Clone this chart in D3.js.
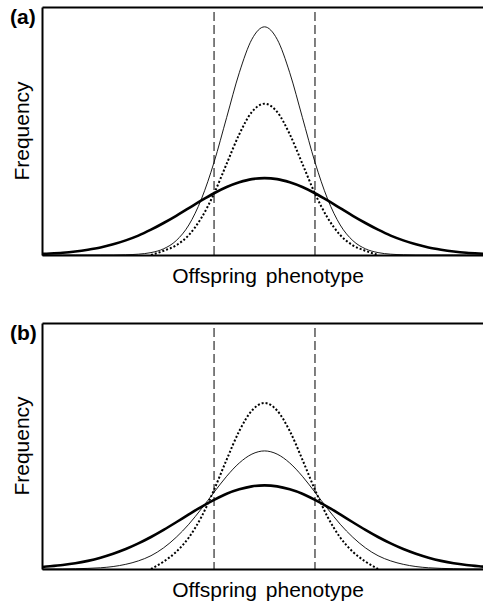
<html>
<head>
<meta charset="utf-8">
<script src="https://d3js.org/d3.v7.min.js"></script>
<style>
  body { margin: 0; background: #fff; }
  text { font-family: "Liberation Sans", Arial, sans-serif; fill: #000; }
</style>
</head>
<body>
<svg id="chart" width="483" height="604"></svg>
<script>
// phenotype positions (units: distance from the mean)
const xs = [-4.5,-4.25,-4,-3.75,-3.5,-3.25,-3,-2.75,-2.5,-2.25,-2,-1.75,-1.5,-1.25,-1,-0.75,-0.5,-0.25,0,
            0.25,0.5,0.75,1,1.25,1.5,1.75,2,2.25,2.5,2.75,3,3.25,3.5,3.75,4,4.25,4.5];

// panel (a) frequencies, % of panel height
const aThin   = [0,0,0,0,0,0,0,0.1,0.33,0.97,2.5,5.8,12.1,22.6,37.4,55.5,73.5,87.0,92,
                 87.0,73.5,55.5,37.4,22.6,12.1,5.8,2.5,0.97,0.33,0.1,0,0,0,0,0,0,0];
const aDotted = [null,null,null,null,null,null,null,null,null,0,1.7,3.9,8.05,15.0,24.8,36.8,48.7,57.7,61,
                 57.7,48.7,36.8,24.8,15.0,8.05,3.9,1.7,0,null,null,null,null,null,null,null,null,null];
const aThick  = [0.4,0.6,0.9,1.4,2.1,3.0,4.3,5.9,7.8,10.2,12.9,15.8,18.9,22.0,24.9,27.4,29.3,30.6,31,
                 30.6,29.3,27.4,24.9,22.0,18.9,15.8,12.9,10.2,7.8,5.9,4.3,3.0,2.1,1.4,0.9,0.6,0.4];

// panel (b)
const bThin   = [0,0,0,0.1,0.25,0.5,1.0,1.9,3.3,5.4,8.6,12.9,18.2,24.5,31.2,37.7,43.1,46.7,48,
                 46.7,43.1,37.7,31.2,24.5,18.2,12.9,8.6,5.4,3.3,1.9,1.0,0.5,0.25,0.1,0,0,0];
const bDotted = [null,null,null,null,null,null,null,null,null,0,3.0,7.0,12.8,21.2,32.2,44.5,56.1,64.4,67.5,
                 64.4,56.1,44.5,32.2,21.2,12.8,7.0,3.0,0,null,null,null,null,null,null,null,null,null];
const bThick  = [0.7,1.1,1.6,2.3,3.3,4.6,6.2,8.1,10.4,13.0,15.9,19.0,22.2,25.3,28.1,30.6,32.4,33.6,34,
                 33.6,32.4,30.6,28.1,25.3,22.2,19.0,15.9,13.0,10.4,8.1,6.2,4.6,3.3,2.3,1.6,1.1,0.7];

// selection thresholds
const cutoffs = [-1, 1];

const panels = [
  { label: "(a)", top: 7,   bottom: 255, thin: aThin, dotted: aDotted, thick: aThick },
  { label: "(b)", top: 323, bottom: 569, thin: bThin, dotted: bDotted, thick: bThick }
];

const svg = d3.select("#chart");
const left = 42, right = 483;
const x = d3.scaleLinear().domain([-4.41, 4.33]).range([left, right]);

svg.append("clipPath").attr("id", "clip")
   .append("rect").attr("x", left).attr("y", 0).attr("width", right - left).attr("height", 604);

panels.forEach(p => {
  const y = d3.scaleLinear().domain([0, 100]).range([p.bottom, p.top]);
  const g = svg.append("g");

  // dashed threshold lines
  g.selectAll(".cut").data(cutoffs).enter().append("line")
    .attr("x1", d => x(d)).attr("x2", d => x(d))
    .attr("y1", p.top + 5).attr("y2", p.bottom)
    .attr("stroke", "#555").attr("stroke-width", 1.5)
    .attr("stroke-dasharray", "9,4");

  const line = d3.line()
    .defined(d => d[1] != null)
    .x(d => x(d[0])).y(d => y(d[1]))
    .curve(d3.curveMonotoneX);

  const curves = g.append("g").attr("clip-path", "url(#clip)");
  curves.append("path").datum(d3.zip(xs, p.thick))
    .attr("fill", "none").attr("stroke", "#000").attr("stroke-width", 2.6)
    .attr("d", line);
  curves.append("path").datum(d3.zip(xs, p.thin))
    .attr("fill", "none").attr("stroke", "#000").attr("stroke-width", 0.9)
    .attr("d", line);
  curves.append("path").datum(d3.zip(xs, p.dotted))
    .attr("fill", "none").attr("stroke", "#000").attr("stroke-width", 2)
    .attr("stroke-dasharray", "2,2")
    .attr("d", line);

  // frame: left, bottom, top
  const axisStyle = sel => {
    sel.select(".domain").attr("stroke", "#000").attr("stroke-width", 2);
  };
  g.append("g").attr("transform", `translate(0,${p.bottom})`)
    .call(d3.axisBottom(x).tickValues([]).tickSizeOuter(0)).call(axisStyle);
  g.append("g").attr("transform", `translate(0,${p.top})`)
    .call(d3.axisTop(x).tickValues([]).tickSizeOuter(0)).call(axisStyle);
  g.append("g").attr("transform", `translate(${left},0)`)
    .call(d3.axisLeft(y).tickValues([]).tickSizeOuter(0)).call(axisStyle);

  // texts
  g.append("text").attr("x", 10).attr("y", p.top + 17)
    .attr("font-size", 21).attr("font-weight", "bold").text(p.label);
  g.append("text")
    .attr("transform", `translate(29,${(p.top + p.bottom) / 2}) rotate(-90)`)
    .attr("text-anchor", "middle").attr("font-size", 21).text("Frequency");
  g.append("text").attr("x", 268).attr("y", p.bottom + 28)
    .attr("text-anchor", "middle").attr("font-size", 21)
    .attr("word-spacing", 3).text("Offspring phenotype");
});
</script>
</body>
</html>
